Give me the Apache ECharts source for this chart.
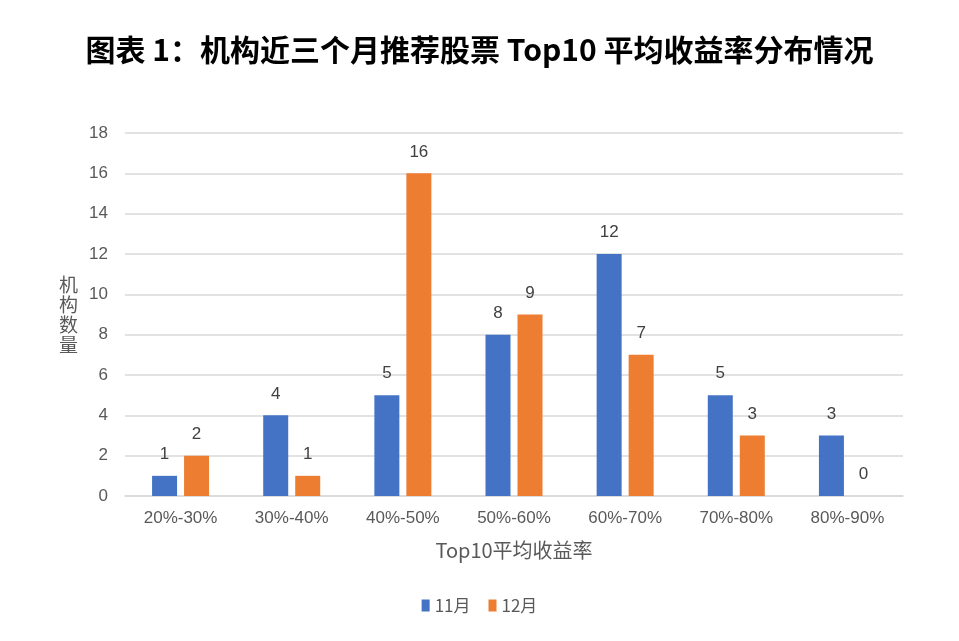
<!DOCTYPE html>
<html>
<head>
<meta charset="utf-8">
<script src="https://cdn.jsdelivr.net/npm/echarts@6/dist/echarts.min.js"></script>
<style>html,body{margin:0;padding:0;background:#fff}#c{width:959px;height:641px}</style>
</head>
<body>
<div id="c"></div>
<script>
const categories = ['20%-30%','30%-40%','40%-50%','50%-60%','60%-70%','70%-80%','80%-90%'];
const nov = [1,4,5,8,12,5,3];
const dec = [2,1,16,9,7,3,0];
const seriesNames = ['11月','12月'];
const yTicks = {min:0,max:18,interval:2};

const chart = echarts.init(document.getElementById('c'));
const labelStyle = {show:true, position:'top', distance:13, color:'#404040', fontSize:17, fontFamily:'Liberation Sans, Noto Sans CJK SC'};
chart.setOption({
  animation:false,
  title:{text:'图表 1：机构近三个月推荐股票 Top10 平均收益率分布情况', left:'center', top:30,
    textStyle:{fontSize:30, fontWeight:'bold', color:'#000', fontFamily:'Noto Sans CJK SC'}},
  grid:{left:125, right:56, top:133, bottom:145},
  legend:{data:seriesNames, bottom:22, left:'center', itemWidth:8, itemHeight:12, itemGap:18,
    icon:'rect', textStyle:{fontSize:17, color:'#595959', fontFamily:'Noto Sans CJK SC'}},
  xAxis:{type:'category', data:categories,
    axisLine:{lineStyle:{color:'#D9D9D9', width:1.5}}, axisTick:{show:false},
    axisLabel:{color:'#595959', fontSize:17, margin:14, fontFamily:'Liberation Sans Narrow, Liberation Sans'},
    name:'Top10平均收益率', nameLocation:'middle', nameGap:44,
    nameTextStyle:{color:'#595959', fontSize:20, fontFamily:'Noto Sans CJK SC'}},
  yAxis:{type:'value', min:yTicks.min, max:yTicks.max, interval:yTicks.interval,
    axisLine:{show:false}, axisTick:{show:false},
    splitLine:{lineStyle:{color:'#D9D9D9', width:1.5}},
    axisLabel:{color:'#595959', fontSize:17, margin:17, fontFamily:'Liberation Sans'},
    name:'机\n构\n数\n量', nameLocation:'middle', nameRotate:0, nameGap:47,
    nameTextStyle:{color:'#595959', fontSize:19, lineHeight:20, fontFamily:'Noto Sans CJK SC'}},
  series:[
    {name:seriesNames[0], type:'bar', data:nov, barWidth:25, barGap:'28%', itemStyle:{color:'#4472C4'}, label:labelStyle},
    {name:seriesNames[1], type:'bar', data:dec, barWidth:25, itemStyle:{color:'#ED7D31'}, label:labelStyle}
  ]
});
</script>
</body>
</html>
